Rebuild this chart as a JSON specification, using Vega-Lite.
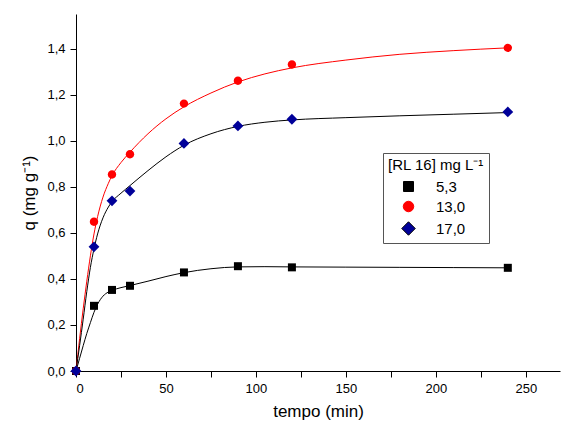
{
  "$schema": "https://vega.github.io/schema/vega-lite/v6.json",
  "width": 484,
  "height": 357,
  "autosize": {"type": "none"},
  "padding": {"left": 76, "top": 14, "right": 3, "bottom": 56},
  "background": "white",
  "config": {
    "view": {"stroke": null},
    "font": "Liberation Sans",
    "axis": {
      "grid": false,
      "domainColor": "black",
      "domainWidth": 1,
      "tickColor": "black",
      "tickWidth": 1,
      "labelColor": "black",
      "titleColor": "black",
      "labelFont": "Liberation Sans",
      "titleFont": "Liberation Sans",
      "labelFontSize": 13,
      "titleFontSize": 17,
      "titleFontWeight": "normal"
    }
  },
  "datasets": {
    "points": [
      {"serie": "5,3", "t": 0, "q": 0},
      {"serie": "5,3", "t": 10, "q": 0.283},
      {"serie": "5,3", "t": 20, "q": 0.352},
      {"serie": "5,3", "t": 30, "q": 0.37},
      {"serie": "5,3", "t": 60, "q": 0.428},
      {"serie": "5,3", "t": 90, "q": 0.455},
      {"serie": "5,3", "t": 120, "q": 0.45},
      {"serie": "5,3", "t": 240, "q": 0.448},
      {"serie": "13,0", "t": 0, "q": 0},
      {"serie": "13,0", "t": 10, "q": 0.648},
      {"serie": "13,0", "t": 20, "q": 0.853},
      {"serie": "13,0", "t": 30, "q": 0.941},
      {"serie": "13,0", "t": 60, "q": 1.161},
      {"serie": "13,0", "t": 90, "q": 1.26},
      {"serie": "13,0", "t": 120, "q": 1.331},
      {"serie": "13,0", "t": 240, "q": 1.403},
      {"serie": "17,0", "t": 0, "q": 0},
      {"serie": "17,0", "t": 10, "q": 0.539},
      {"serie": "17,0", "t": 20, "q": 0.739},
      {"serie": "17,0", "t": 30, "q": 0.781},
      {"serie": "17,0", "t": 60, "q": 0.988},
      {"serie": "17,0", "t": 90, "q": 1.064},
      {"serie": "17,0", "t": 120, "q": 1.093},
      {"serie": "17,0", "t": 240, "q": 1.125}
    ],
    "curves": [
      {"serie": "5,3", "t": 0, "q": 0},
      {"serie": "5,3", "t": 2, "q": 0.055},
      {"serie": "5,3", "t": 4, "q": 0.11},
      {"serie": "5,3", "t": 6, "q": 0.163},
      {"serie": "5,3", "t": 8, "q": 0.21},
      {"serie": "5,3", "t": 10, "q": 0.255},
      {"serie": "5,3", "t": 12, "q": 0.29},
      {"serie": "5,3", "t": 15, "q": 0.325},
      {"serie": "5,3", "t": 18, "q": 0.343},
      {"serie": "5,3", "t": 20, "q": 0.35},
      {"serie": "5,3", "t": 25, "q": 0.362},
      {"serie": "5,3", "t": 30, "q": 0.371},
      {"serie": "5,3", "t": 40, "q": 0.39},
      {"serie": "5,3", "t": 50, "q": 0.41},
      {"serie": "5,3", "t": 60, "q": 0.427},
      {"serie": "5,3", "t": 75, "q": 0.444},
      {"serie": "5,3", "t": 90, "q": 0.452},
      {"serie": "5,3", "t": 105, "q": 0.453},
      {"serie": "5,3", "t": 120, "q": 0.452},
      {"serie": "5,3", "t": 150, "q": 0.451},
      {"serie": "5,3", "t": 180, "q": 0.45},
      {"serie": "5,3", "t": 210, "q": 0.449},
      {"serie": "5,3", "t": 240, "q": 0.448},
      {"serie": "13,0", "t": 0, "q": 0},
      {"serie": "13,0", "t": 2, "q": 0.14},
      {"serie": "13,0", "t": 4, "q": 0.27},
      {"serie": "13,0", "t": 6, "q": 0.39},
      {"serie": "13,0", "t": 8, "q": 0.5},
      {"serie": "13,0", "t": 10, "q": 0.595},
      {"serie": "13,0", "t": 12, "q": 0.67},
      {"serie": "13,0", "t": 15, "q": 0.755},
      {"serie": "13,0", "t": 18, "q": 0.815},
      {"serie": "13,0", "t": 20, "q": 0.848},
      {"serie": "13,0", "t": 25, "q": 0.905},
      {"serie": "13,0", "t": 30, "q": 0.95},
      {"serie": "13,0", "t": 40, "q": 1.03},
      {"serie": "13,0", "t": 50, "q": 1.095},
      {"serie": "13,0", "t": 60, "q": 1.147},
      {"serie": "13,0", "t": 75, "q": 1.207},
      {"serie": "13,0", "t": 90, "q": 1.255},
      {"serie": "13,0", "t": 105, "q": 1.29},
      {"serie": "13,0", "t": 120, "q": 1.316},
      {"serie": "13,0", "t": 150, "q": 1.35},
      {"serie": "13,0", "t": 180, "q": 1.375},
      {"serie": "13,0", "t": 210, "q": 1.391},
      {"serie": "13,0", "t": 240, "q": 1.403},
      {"serie": "17,0", "t": 0, "q": 0},
      {"serie": "17,0", "t": 2, "q": 0.11},
      {"serie": "17,0", "t": 4, "q": 0.225},
      {"serie": "17,0", "t": 6, "q": 0.345},
      {"serie": "17,0", "t": 8, "q": 0.45},
      {"serie": "17,0", "t": 10, "q": 0.53},
      {"serie": "17,0", "t": 12, "q": 0.595},
      {"serie": "17,0", "t": 15, "q": 0.665},
      {"serie": "17,0", "t": 18, "q": 0.712},
      {"serie": "17,0", "t": 20, "q": 0.735},
      {"serie": "17,0", "t": 25, "q": 0.772},
      {"serie": "17,0", "t": 30, "q": 0.805},
      {"serie": "17,0", "t": 40, "q": 0.87},
      {"serie": "17,0", "t": 50, "q": 0.93},
      {"serie": "17,0", "t": 60, "q": 0.98},
      {"serie": "17,0", "t": 75, "q": 1.03},
      {"serie": "17,0", "t": 90, "q": 1.062},
      {"serie": "17,0", "t": 105, "q": 1.08},
      {"serie": "17,0", "t": 120, "q": 1.09},
      {"serie": "17,0", "t": 150, "q": 1.1},
      {"serie": "17,0", "t": 180, "q": 1.108},
      {"serie": "17,0", "t": 210, "q": 1.115},
      {"serie": "17,0", "t": 240, "q": 1.122}
    ]
  },
  "layer": [
    {
      "data": {"name": "curves"},
      "mark": {"type": "line", "interpolate": "monotone", "strokeWidth": 1},
      "encoding": {
        "x": {
          "field": "t", "type": "quantitative",
          "scale": {"domain": [0, 269], "nice": false, "zero": false},
          "axis": {"orient": "bottom", "values": [0, 25, 50, 75, 100, 125, 150, 175, 200, 225, 250], "tickSize": 6, "labelPadding": 5,
                   "labelExpr": "datum.value % 50 == 0 ? datum.label : ''",
                   "encode": {"ticks": {"update": {"y2": {"signal": "datum.value % 50 == 0 ? 6 : 3"}}}},
                   "title": "tempo (min)", "titlePadding": 8}
        },
        "y": {
          "field": "q", "type": "quantitative",
          "scale": {"domain": [0, 1.55], "nice": false, "zero": false},
          "axis": {"orient": "left", "values": [0, 0.1, 0.2, 0.3, 0.4, 0.5, 0.6, 0.7, 0.8, 0.9, 1.0, 1.1, 1.2, 1.3, 1.4, 1.5], "tickSize": 6, "labelPadding": 5,
                   "labelExpr": "round(datum.value * 10) % 2 == 0 ? replace(format(datum.value, '.1f'), '.', ',') : ''",
                   "encode": {"ticks": {"update": {"x2": {"signal": "round(datum.value * 10) % 2 == 0 ? -6 : -3"}}}},
                   "title": "q (mg g⁻¹)", "titlePadding": 8}
        },
        "stroke": {
          "field": "serie", "type": "nominal",
          "scale": {"domain": ["5,3", "13,0", "17,0"], "range": ["black", "#ff0000", "black"]},
          "legend": {
            "title": "[RL 16] mg L⁻¹",
            "orient": "none", "legendX": 307, "legendY": 139,
            "strokeColor": "#555555", "fillColor": "white", "padding": 5,
            "titleFont": "Liberation Sans", "titleFontSize": 15, "titleFontWeight": "normal", "titleColor": "black", "titlePadding": 6,
            "labelFont": "Liberation Sans", "labelFontSize": 15, "labelColor": "black",
            "symbolSize": 100, "symbolOffset": 13, "labelOffset": 20, "rowPadding": 4,
            "labelExpr": "datum.label == '5,3' ? '  5,3' : datum.label",
            "encode": {
              "symbols": {
                "update": {
                  "shape": {"signal": "datum.value == '5,3' ? 'M-4.1,0H4.1M-0.75,-0.75H0.75V0.75H-0.75Z' : (datum.value == '13,0' ? 'M-4.1,0H4.1M-0.85,0A0.85,0.85,0,1,1,0.85,0A0.85,0.85,0,1,1,-0.85,0Z' : 'M-4.1,0H4.1M0,-1L1,0L0,1L-1,0Z')"},
                  "stroke": {"signal": "datum.value == '13,0' ? '#ff7070' : 'black'"},
                  "fill": {"signal": "datum.value == '5,3' ? 'black' : (datum.value == '13,0' ? '#ff0000' : '#000099')"},
                  "strokeWidth": {"value": 1},
                  "opacity": {"value": 1}
                }
              }
            }
          }
        },
        "detail": {"field": "serie"}
      }
    },
    {
      "data": {"name": "points"},
      "mark": {"type": "point", "filled": true, "opacity": 1, "strokeWidth": 0, "size": 64},
      "encoding": {
        "x": {"field": "t", "type": "quantitative"},
        "y": {"field": "q", "type": "quantitative"},
        "fill": {
          "field": "serie", "type": "nominal",
          "scale": {"domain": ["5,3", "13,0", "17,0"], "range": ["black", "#ff0000", "#000099"]},
          "legend": {
            "title": "[RL 16] mg L⁻¹",
            "orient": "none", "legendX": 307, "legendY": 139,
            "strokeColor": "#555555", "fillColor": "white", "padding": 5,
            "titleFont": "Liberation Sans", "titleFontSize": 15, "titleFontWeight": "normal", "titleColor": "black", "titlePadding": 6,
            "labelFont": "Liberation Sans", "labelFontSize": 15, "labelColor": "black",
            "symbolSize": 100, "symbolOffset": 13, "labelOffset": 20, "rowPadding": 4,
            "labelExpr": "datum.label == '5,3' ? '  5,3' : datum.label",
            "encode": {
              "symbols": {
                "update": {
                  "shape": {"signal": "datum.value == '5,3' ? 'M-4.1,0H4.1M-0.75,-0.75H0.75V0.75H-0.75Z' : (datum.value == '13,0' ? 'M-4.1,0H4.1M-0.85,0A0.85,0.85,0,1,1,0.85,0A0.85,0.85,0,1,1,-0.85,0Z' : 'M-4.1,0H4.1M0,-1L1,0L0,1L-1,0Z')"},
                  "stroke": {"signal": "datum.value == '13,0' ? '#ff7070' : 'black'"},
                  "fill": {"signal": "datum.value == '5,3' ? 'black' : (datum.value == '13,0' ? '#ff0000' : '#000099')"},
                  "strokeWidth": {"value": 1},
                  "opacity": {"value": 1}
                }
              }
            }
          }
        },
        "shape": {
          "field": "serie", "type": "nominal",
          "scale": {"domain": ["5,3", "13,0", "17,0"], "range": ["M-1,-1H1V1H-1Z", "M-1.05,0A1.05,1.05,0,1,1,1.05,0A1.05,1.05,0,1,1,-1.05,0Z", "M0,-1.35L1.35,0L0,1.35L-1.35,0Z"]},
          "legend": {
            "title": "[RL 16] mg L⁻¹",
            "orient": "none", "legendX": 307, "legendY": 139,
            "strokeColor": "#555555", "fillColor": "white", "padding": 5,
            "titleFont": "Liberation Sans", "titleFontSize": 15, "titleFontWeight": "normal", "titleColor": "black", "titlePadding": 6,
            "labelFont": "Liberation Sans", "labelFontSize": 15, "labelColor": "black",
            "symbolSize": 100, "symbolOffset": 13, "labelOffset": 20, "rowPadding": 4,
            "labelExpr": "datum.label == '5,3' ? '  5,3' : datum.label",
            "encode": {
              "symbols": {
                "update": {
                  "shape": {"signal": "datum.value == '5,3' ? 'M-4.1,0H4.1M-0.75,-0.75H0.75V0.75H-0.75Z' : (datum.value == '13,0' ? 'M-4.1,0H4.1M-0.85,0A0.85,0.85,0,1,1,0.85,0A0.85,0.85,0,1,1,-0.85,0Z' : 'M-4.1,0H4.1M0,-1L1,0L0,1L-1,0Z')"},
                  "stroke": {"signal": "datum.value == '13,0' ? '#ff7070' : 'black'"},
                  "fill": {"signal": "datum.value == '5,3' ? 'black' : (datum.value == '13,0' ? '#ff0000' : '#000099')"},
                  "strokeWidth": {"value": 1},
                  "opacity": {"value": 1}
                }
              }
            }
          }
        }
      }
    }
  ]
}
